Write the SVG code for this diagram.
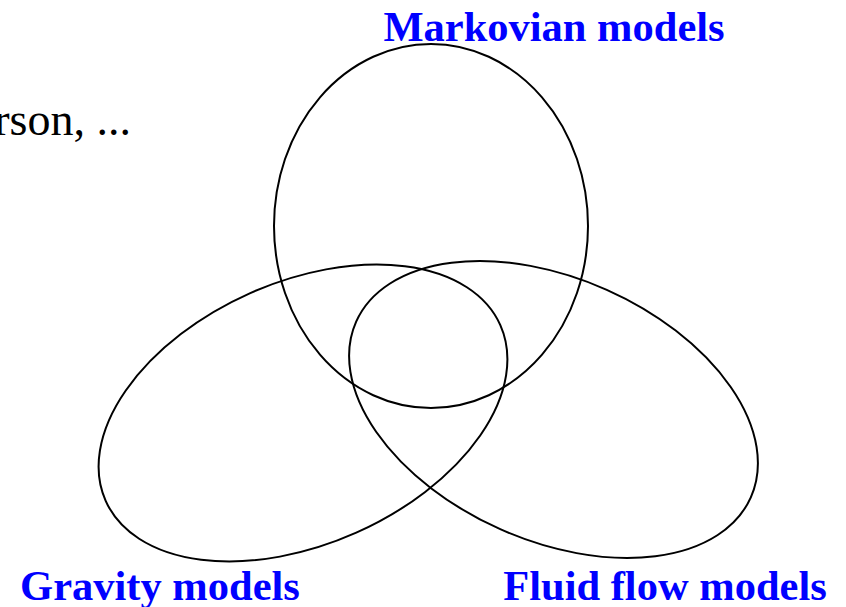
<svg xmlns="http://www.w3.org/2000/svg" width="846" height="607" viewBox="0 0 846 607">
<style>
.e{fill:none;stroke:#000;stroke-width:2}
.lbl{font-family:"Liberation Serif","Times New Roman",serif;font-weight:bold;font-size:42.5px;fill:#0000ff}
.txt{font-family:"Liberation Serif","Times New Roman",serif;font-size:46px;fill:#000}
</style>
<rect width="846" height="607" fill="#fff"/>
<text class="txt" x="131" y="135" text-anchor="end">rson, ...</text>
<g id="markovian">
<ellipse class="e" cx="431" cy="226" rx="157" ry="182"/>
<text class="lbl" x="554" y="41" text-anchor="middle">Markovian models</text>
</g>
<g id="gravity">
<ellipse class="e" cx="303" cy="413" rx="216" ry="131" transform="rotate(-24 303 413)"/>
<text class="lbl" x="160" y="600" text-anchor="middle">Gravity models</text>
</g>
<g id="fluid">
<ellipse class="e" cx="553.5" cy="409.5" rx="216" ry="131" transform="rotate(24 553.5 409.5)"/>
<text class="lbl" x="665" y="600" text-anchor="middle">Fluid flow models</text>
</g>
<g id="connectors"></g>
</svg>
